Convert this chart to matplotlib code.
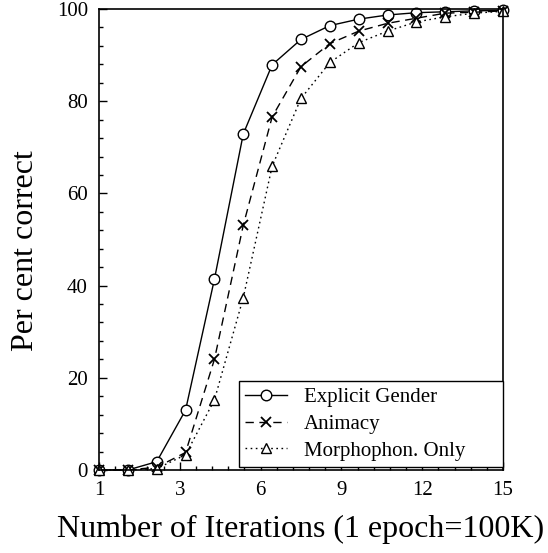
import numpy as np
from matplotlib import pyplot as plt
from matplotlib.ticker import FixedLocator, MultipleLocator

plt.rcParams['font.family'] = ['Liberation Serif', 'DejaVu Serif']

# tick labels along the x axis (labels are evenly spread over the 15 points)
xlabels = ["1", "3", "6", "9", "12", "15"]

# per cent correct, one value per iteration step
explicit = [0, 0, 1.8, 13.0, 41.4, 72.9, 87.9, 93.4, 96.4, 97.8, 98.7, 99.2, 99.4, 99.6, 99.7]
animacy = [0, 0, 0.6, 3.8, 24.0, 53.1, 76.6, 87.5, 92.5, 95.2, 96.9, 98.0, 99.1, 99.3, 99.6]
morpho = [0, 0, 0.3, 3.3, 15.2, 37.4, 65.9, 80.6, 88.4, 92.7, 95.2, 97.2, 98.3, 99.1, 99.5]

x = np.arange(len(explicit))

fig = plt.figure(figsize=(5.48, 5.53), dpi=100)
ax = fig.add_axes([99/548, 1-470/553, 404/548, 461/553])

ax.plot(x, explicit, color='black', lw=1.0, ls='-', marker='o', ms=7.6,
        mfc='white', mec='black', mew=1.0, label='Explicit Gender', clip_on=False)
ax.plot(x, animacy, color='black', lw=1.0, ls=(0, (6, 4)), marker='x', ms=6.5,
        mec='black', mew=1.3, label='Animacy', clip_on=False)
ax.plot(x, morpho, color='black', lw=1.0, ls=(0, (1.2, 2.5)), marker='^', ms=6.5,
        mfc='white', mec='black', mew=1.0, label='Morphophon. Only', clip_on=False)

ax.set_xlim(0, 14)
ax.set_ylim(0, 100)

xt = np.linspace(0, 14, len(xlabels))
ax.xaxis.set_major_locator(FixedLocator(xt))
ax.set_xticklabels(xlabels)
ax.xaxis.set_minor_locator(MultipleLocator(14/25))
ax.yaxis.set_major_locator(MultipleLocator(20))
ax.yaxis.set_minor_locator(MultipleLocator(4))

ax.tick_params(which='both', direction='in', top=False, right=False,
               labelsize=15, width=1)
ax.tick_params(which='major', length=6, pad=8)
ax.tick_params(which='minor', length=3)
for s in ax.spines.values():
    s.set_linewidth(1.2)

ax.set_xlabel('Number of Iterations (1 epoch=100K)', fontsize=23, labelpad=10)
ax.set_ylabel('Per cent correct', fontsize=23)
ax.yaxis.set_label_coords(-0.145, 0.475)

leg = ax.legend(loc='lower left', bbox_to_anchor=((239-99)/404, 3/461, (503-239)/404, 0.18),
                mode='expand', borderaxespad=0, fontsize=15, handlelength=2.0,
                handletextpad=0.8, labelspacing=0.35, borderpad=0.3,
                fancybox=False, framealpha=1, edgecolor='black')
leg.get_frame().set_linewidth(1.0)

fig.savefig('out.png', dpi=100)
